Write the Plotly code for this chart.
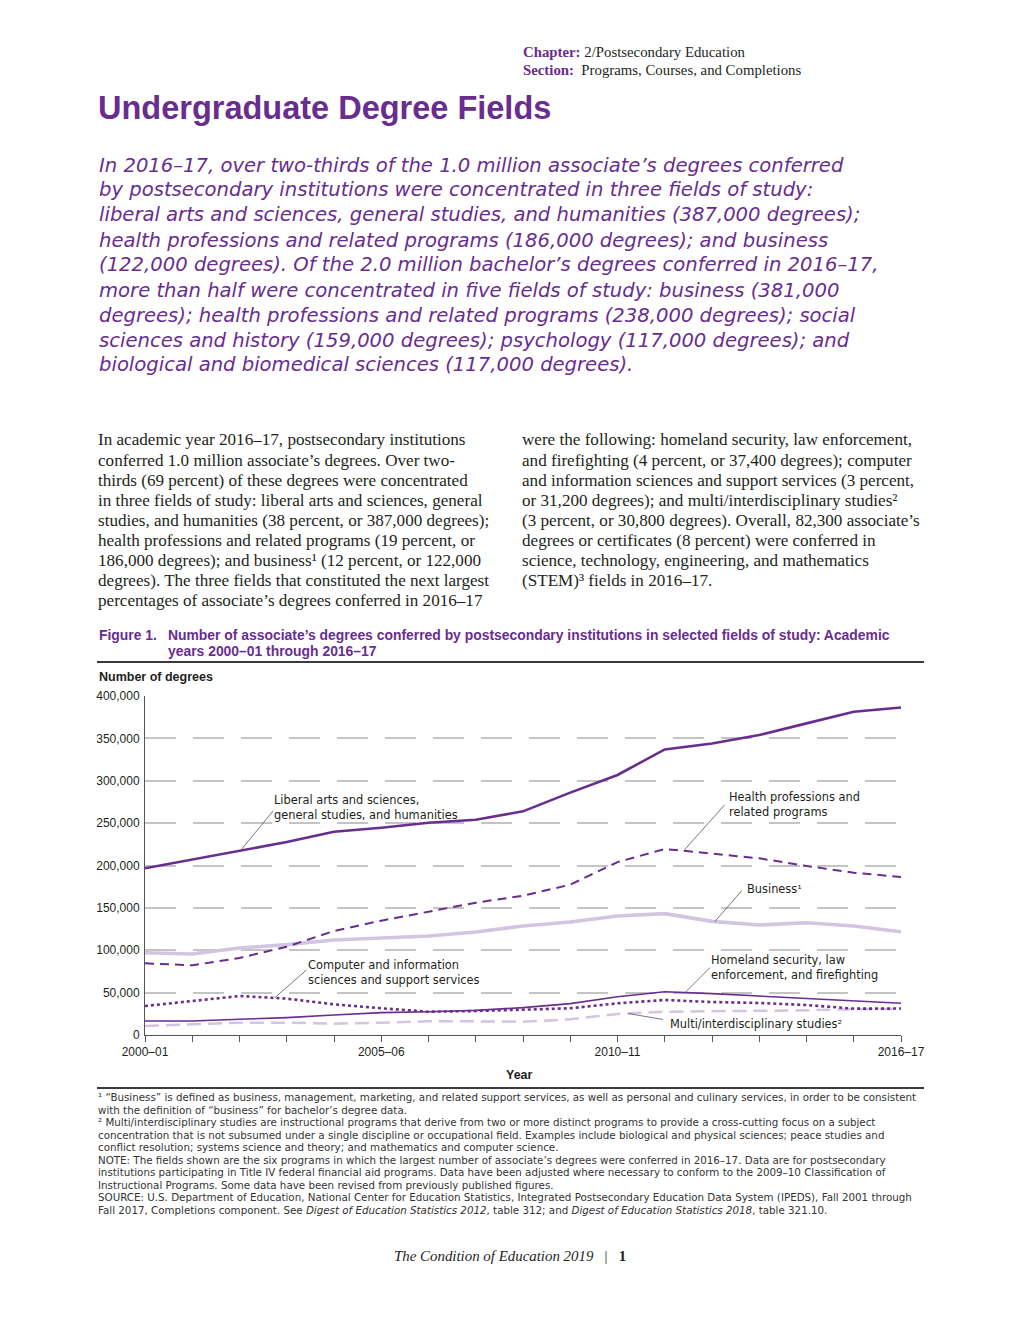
import numpy as np
import plotly.graph_objects as go

# ---------------- data ----------------
years = ["2000–01", "2001–02", "2002–03", "2003–04", "2004–05", "2005–06", "2006–07",
         "2007–08", "2008–09", "2009–10", "2010–11", "2011–12", "2012–13", "2013–14",
         "2014–15", "2015–16", "2016–17"]
labeled_years = ["2000–01", "2005–06", "2010–11", "2016–17"]

liberal_arts = [196700, 206900, 217900, 227700, 239900, 244600, 250500, 254000, 263900,
                286000, 306800, 337000, 344000, 354000, 367700, 381500, 386500]
health = [84600, 82200, 90900, 104200, 122700, 134900, 145500, 156100, 164400,
          177400, 204000, 219500, 214000, 208500, 199400, 191500, 186400]
business = [97100, 95600, 102700, 106600, 112100, 114500, 116800, 121500, 128600,
            133300, 140400, 143200, 134100, 129800, 132500, 128600, 121900]
computer = [34200, 40100, 46000, 42900, 36200, 31500, 27500, 28300, 29500,
            31500, 37400, 41300, 38900, 37800, 35400, 31100, 31200]
homeland = [16500, 16500, 18500, 20500, 23600, 26400, 27500, 29100, 32300,
            37000, 45200, 51100, 48800, 46000, 43300, 40100, 37400]
multi = [10600, 13000, 14600, 14600, 13400, 14600, 16100, 16100, 15700,
         18500, 24800, 27500, 27900, 28300, 29100, 30300, 30800]

y_ticks = [0, 50000, 100000, 150000, 200000, 250000, 300000, 350000, 400000]

# ---------------- styling ----------------
W, H = 1020, 1320
PURPLE = "#692d8f"
LAVENDER = "#d3c4e1"
TEXT = "#231f20"
SANS = "Liberation Sans"
WIDE = "DejaVu Sans"
SERIF = "Liberation Serif"


def px(x):
    return x / W


def py(y):
    return 1 - y / H


xi = list(range(len(years)))

fig = go.Figure()


def add_series(vals, color, width, dash):
    fig.add_trace(go.Scatter(x=xi, y=vals, mode="lines",
                             line=dict(color=color, width=width, dash=dash),
                             hoverinfo="skip", showlegend=False))


add_series(multi, LAVENDER, 2.5, "14px,7px")
add_series(business, LAVENDER, 3.6, "solid")
add_series(computer, PURPLE, 2.6, "dot")
add_series(homeland, PURPLE, 1.6, "solid")
add_series(health, PURPLE, 2, "9px,6px")
add_series(liberal_arts, PURPLE, 2.6, "solid")

annotations = []
shapes = []


def text(x, y, s, size, color=TEXT, family=SANS, xanchor="left", yanchor="middle"):
    annotations.append(dict(x=px(x), y=py(y), xref="paper", yref="paper", text=s,
                            showarrow=False, xanchor=xanchor, yanchor=yanchor,
                            align="left", font=dict(size=size, color=color, family=family)))


def lines_block(x, y0, dy, lines, size, color=TEXT, family=SANS):
    for i, s in enumerate(lines):
        text(x, y0 + i * dy, s, size, color, family)


# header
text(521, 52, f"<b><span style='color:{PURPLE}'>Chapter:</span></b> 2/Postsecondary Education", 14.8, TEXT, SERIF)
text(521, 70, f"<b><span style='color:{PURPLE}'>Section:</span></b>  Programs, Courses, and Completions", 14.8, TEXT, SERIF)
text(96, 108, "<b>Undergraduate Degree Fields</b>", 32.5, PURPLE, SANS)

intro = [
    "In 2016–17, over two-thirds of the 1.0 million associate’s degrees conferred",
    "by postsecondary institutions were concentrated in three fields of study:",
    "liberal arts and sciences, general studies, and humanities (387,000 degrees);",
    "health professions and related programs (186,000 degrees); and business",
    "(122,000 degrees). Of the 2.0 million bachelor’s degrees conferred in 2016–17,",
    "more than half were concentrated in five fields of study: business (381,000",
    "degrees); health professions and related programs (238,000 degrees); social",
    "sciences and history (159,000 degrees); psychology (117,000 degrees); and",
    "biological and biomedical sciences (117,000 degrees).",
]
lines_block(97, 165, 25, ["<i>" + s + "</i>" for s in intro], 19.6, PURPLE, WIDE)

left_col = [
    "In academic year 2016–17, postsecondary institutions",
    "conferred 1.0 million associate’s degrees. Over two-",
    "thirds (69 percent) of these degrees were concentrated",
    "in three fields of study: liberal arts and sciences, general",
    "studies, and humanities (38 percent, or 387,000 degrees);",
    "health professions and related programs (19 percent, or",
    "186,000 degrees); and business¹ (12 percent, or 122,000",
    "degrees). The three fields that constituted the next largest",
    "percentages of associate’s degrees conferred in 2016–17",
]
right_col = [
    "were the following: homeland security, law enforcement,",
    "and firefighting (4 percent, or 37,400 degrees); computer",
    "and information sciences and support services (3 percent,",
    "or 31,200 degrees); and multi/interdisciplinary studies²",
    "(3 percent, or 30,800 degrees). Overall, 82,300 associate’s",
    "degrees or certificates (8 percent) were conferred in",
    "science, technology, engineering, and mathematics",
    "(STEM)³ fields in 2016–17.",
]
lines_block(96, 440, 20, left_col, 17.1, TEXT, SERIF)
lines_block(520, 440, 20, right_col, 17.1, TEXT, SERIF)

# figure caption
text(97, 635, "<b>Figure 1.</b>", 13.9, PURPLE, SANS)
lines_block(166, 635, 16, [
    "<b>Number of associate’s degrees conferred by postsecondary institutions in selected fields of study: Academic</b>",
    "<b>years 2000–01 through 2016–17</b>"], 13.9, PURPLE, SANS)
shapes.append(dict(type="line", xref="paper", yref="paper", x0=px(97), x1=px(924),
                   y0=py(662), y1=py(662), line=dict(color="#3a3a3a", width=2)))

text(97, 677, "<b>Number of degrees</b>", 12.5, TEXT, SANS)
text(519, 1075, "<b>Year</b>", 12.5, TEXT, SANS, xanchor="center")


# series labels with leader lines (head anchored on the data)
def leader(series, xpos, dx, dy):
    yv = float(np.interp(xpos, xi, series))
    shapes.append(dict(type="line", xref="x", yref="y", xsizemode="pixel", ysizemode="pixel",
                       xanchor=xpos, yanchor=yv, x0=0, y0=0, x1=dx, y1=dy,
                       line=dict(color="#555555", width=0.8)))


leader(liberal_arts, 2.03, 32, 39)
leader(health, 11.4, 41, 46)
leader(business, 12.06, 27, 31)
leader(homeland, 11.43, 25, 25)
leader(multi, 10.22, 35, -6)
leader(computer, 2.74, 32, 28)

LF = 11.4
text(272, 808, "Liberal arts and sciences,<br>general studies, and humanities", LF, TEXT, WIDE)
text(727, 804, "Health professions and<br>related programs", LF, TEXT, WIDE)
text(745, 889, "Business¹", LF, TEXT, WIDE)
text(709, 968, "Homeland security, law<br>enforcement, and firefighting", LF, TEXT, WIDE)
text(668, 1024, "Multi/interdisciplinary studies²", LF, TEXT, WIDE)
text(306, 972, "Computer and information<br>sciences and support services", LF, TEXT, WIDE)

# footnotes
shapes.append(dict(type="line", xref="paper", yref="paper", x0=px(97), x1=px(924),
                   y0=py(1088), y1=py(1088), line=dict(color="#3a3a3a", width=2)))
foot = [
    "¹ “Business” is defined as business, management, marketing, and related support services, as well as personal and culinary services, in order to be consistent",
    "with the definition of “business” for bachelor’s degree data.",
    "² Multi/interdisciplinary studies are instructional programs that derive from two or more distinct programs to provide a cross-cutting focus on a subject",
    "concentration that is not subsumed under a single discipline or occupational field. Examples include biological and physical sciences; peace studies and",
    "conflict resolution; systems science and theory; and mathematics and computer science.",
    "NOTE: The fields shown are the six programs in which the largest number of associate’s degrees were conferred in 2016–17. Data are for postsecondary",
    "institutions participating in Title IV federal financial aid programs. Data have been adjusted where necessary to conform to the 2009–10 Classification of",
    "Instructional Programs. Some data have been revised from previously published figures.",
    "SOURCE: U.S. Department of Education, National Center for Education Statistics, Integrated Postsecondary Education Data System (IPEDS), Fall 2001 through",
    "Fall 2017, Completions component. See <i>Digest of Education Statistics 2012</i>, table 312; and <i>Digest of Education Statistics 2018</i>, table 321.10.",
]
lines_block(96, 1097, 12.5, foot, 10.3, "#333333", WIDE)

text(510, 1256, "<i>The Condition of Education 2019</i>   |   <b>1</b>", 14.9, TEXT, SERIF, xanchor="center")

ticktext = [y if y in labeled_years else "" for y in years]

fig.update_layout(
    width=W, height=H, autosize=False,
    margin=dict(l=0, r=0, t=0, b=0, pad=0),
    paper_bgcolor="white", plot_bgcolor="white",
    showlegend=False,
    annotations=annotations, shapes=shapes,
    xaxis=dict(domain=[px(145), px(901)], range=[0, 16], tickmode="array", tickvals=xi,
               ticktext=ticktext, ticks="outside", ticklen=6, tickcolor="#555555", tickwidth=1,
               showline=True, linecolor="#555555", linewidth=1, showgrid=False, zeroline=False,
               automargin=False,
               tickfont=dict(size=12, color=TEXT, family=SANS), fixedrange=True),
    yaxis=dict(domain=[py(1035), py(696)], range=[0, 400000], tickmode="array", tickvals=y_ticks,
               tickformat=",", showline=True, linecolor="#555555", linewidth=1, ticks="",
               showgrid=True, gridcolor="#c4c4c4", gridwidth=1.5, griddash="31px,17px",
               zeroline=False, automargin=False,
               tickfont=dict(size=12, color=TEXT, family=SANS),
               ticklabelstandoff=2, fixedrange=True),
)

fig.write_html("out.html", config={"displayModeBar": False},
               post_script="document.body.style.margin='0';")
